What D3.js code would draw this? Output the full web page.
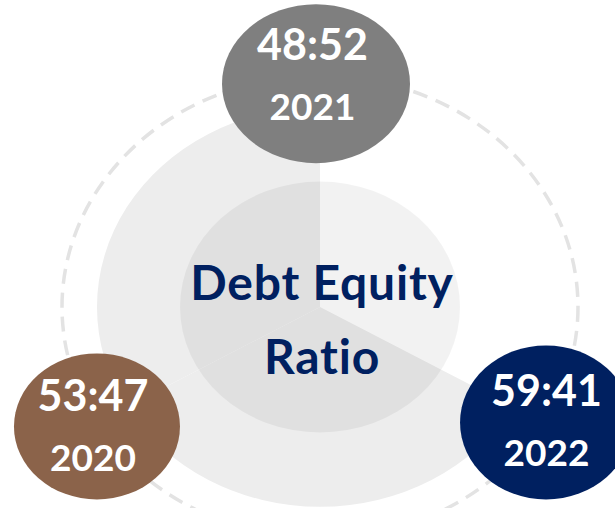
<!DOCTYPE html>
<html>
<head>
<meta charset="utf-8">
<script src="https://cdn.jsdelivr.net/npm/d3@7"></script>
<style>
  html, body { margin: 0; padding: 0; background: #ffffff; }
  svg { display: block; }
  text { font-variant-ligatures: none; font-feature-settings: "liga" 0, "clig" 0; }
</style>
</head>
<body>
<div id="chart"></div>
<script>
// ---- data ----
const years = ["2020", "2021", "2022"];
const debtShare = [53, 48, 59];
const equityShare = [47, 52, 41];
const centerTitle = ["Debt Equity", "Ratio"];
// clockwise order of the year bubbles around the ring, starting at 12 o'clock
const ringOrder = ["2021", "2022", "2020"];
// decorative ring segments between bubbles (clockwise from 12 o'clock)
const ringSegments = ["2021-2022", "2022-2020", "2020-2021"];
const ringWeights = [1, 1, 1];

// ---- styles / layout ----
const W = 615, H = 508;
const cx = 320, cy = 307;
const squash = 0.896;
const outerR = 223, innerR = 140, dashR = 258;
const bubbleOrbitR = 261;
const bubbleFill = { "2020": "#8B634A", "2021": "#7F7F7F", "2022": "#002060" };
const bubbleStyle = {
  "2021": { rx: 94, ry: 79.5, dx: -4, dy: 10.5, tdx: -7.5, tdy: 7 },
  "2022": { rx: 86, ry: 77, dx: 0, dy: -1.5, tdx: 0.5, tdy: 2 },
  "2020": { rx: 83, ry: 73, dx: 3, dy: 2.5, tdx: -1, tdy: 7.5 }
};
const segmentFill = { "2021-2022": "#ffffff", "2022-2020": "#ededed", "2020-2021": "#ededed" };
const navy = "#002060";
const font = "Lato, 'Open Sans', sans-serif";

const svg = d3.select("#chart").append("svg")
  .attr("width", W).attr("height", H)
  .attr("viewBox", `0 0 ${W} ${H}`);

// angle scale for bubbles (degrees clockwise from 12 o'clock)
const angle = d3.scalePoint().domain(ringOrder.concat(["_end"])).range([0, 360]);

// ---- outer decorative pie ----
const pie = d3.pie().sort(null).value(d => d.w);
const arcOuter = d3.arc().innerRadius(0).outerRadius(outerR);
const gPie = svg.append("g").attr("transform", `translate(${cx},${cy}) scale(1,${squash})`);
gPie.selectAll("path.seg")
  .data(pie(ringSegments.map((s, i) => ({ s, w: ringWeights[i] }))))
  .join("path")
  .attr("class", "seg")
  .attr("d", arcOuter)
  .attr("fill", d => segmentFill[d.data.s]);

// inner translucent disc
gPie.append("circle")
  .attr("r", innerR)
  .attr("fill", "#000")
  .attr("fill-opacity", 0.052);

// ---- dashed orbit ----
svg.append("ellipse")
  .attr("cx", cx).attr("cy", cy)
  .attr("rx", dashR).attr("ry", dashR * squash)
  .attr("fill", "none")
  .attr("stroke", "#e3e3e3")
  .attr("stroke-width", 3.5)
  .attr("stroke-dasharray", "15 9");

// ---- bubbles ----
const pos = y => {
  const a = angle(y) * Math.PI / 180;
  return [cx + bubbleOrbitR * Math.sin(a), cy - bubbleOrbitR * squash * Math.cos(a)];
};
const bubbles = svg.selectAll("g.bubble")
  .data(years.map((y, i) => ({ year: y, debt: debtShare[i], equity: equityShare[i] })))
  .join("g").attr("class", "bubble");

bubbles.append("ellipse")
  .attr("cx", d => pos(d.year)[0] + bubbleStyle[d.year].dx)
  .attr("cy", d => pos(d.year)[1] + bubbleStyle[d.year].dy)
  .attr("rx", d => bubbleStyle[d.year].rx)
  .attr("ry", d => bubbleStyle[d.year].ry)
  .attr("fill", d => bubbleFill[d.year]);

bubbles.append("text")
  .attr("x", d => pos(d.year)[0] + bubbleStyle[d.year].tdx)
  .attr("y", d => pos(d.year)[1] + bubbleStyle[d.year].tdy - 20)
  .attr("text-anchor", "middle")
  .attr("font-family", font).attr("font-weight", 700)
  .attr("font-size", 43).attr("fill", "#fff")
  .text(d => `${d.debt}:${d.equity}`);

bubbles.append("text")
  .attr("x", d => pos(d.year)[0] + bubbleStyle[d.year].tdx)
  .attr("y", d => pos(d.year)[1] + bubbleStyle[d.year].tdy + 40)
  .attr("text-anchor", "middle")
  .attr("font-family", font).attr("font-weight", 700)
  .attr("font-size", 37).attr("fill", "#fff")
  .text(d => d.year);

// ---- center title ----
svg.selectAll("text.title")
  .data(centerTitle)
  .join("text")
  .attr("class", "title")
  .attr("x", 322)
  .attr("y", (d, i) => 300 + i * 74)
  .attr("text-anchor", "middle")
  .attr("font-family", font).attr("font-weight", 700)
  .attr("font-size", 48).attr("letter-spacing", 0.8).attr("fill", navy)
  .text(d => d);
</script>
</body>
</html>
